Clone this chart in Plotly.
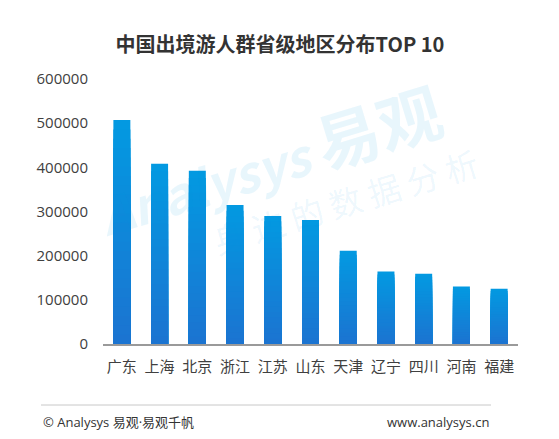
import plotly.graph_objects as go

categories = ["广东", "上海", "北京", "浙江", "江苏", "山东", "天津", "辽宁", "四川", "河南", "福建"]
values = [507000, 408000, 392000, 315000, 290000, 281000, 211000, 164000, 159000, 130000, 125000]
y_ticks = [0, 100000, 200000, 300000, 400000, 500000, 600000]

# page body has an 8px margin: lay the figure out in window pixels shifted by D
D = 8
W, H = 559 - D, 439 - D
L, R, T, B = 103 - D, 41, 79 - D, 95
FONT = "Noto Sans CJK SC, Microsoft YaHei, sans-serif"
FONT_LAT = "Open Sans, Noto Sans CJK SC, sans-serif"

top_rgb = (3, 153, 225)
bot_rgb = (27, 116, 209)

fig = go.Figure()
N = 24
for k in range(N):
    frac = (N - k) / N
    t = k / (N - 1)
    c = tuple(round(top_rgb[i] + (bot_rgb[i] - top_rgb[i]) * t) for i in range(3))
    fig.add_trace(go.Bar(
        x=categories,
        y=[v * frac for v in values],
        marker=dict(color="rgb(%d,%d,%d)" % c, line=dict(width=0)),
        hoverinfo="skip" if k else None,
        showlegend=False,
    ))

def px_x(px):
    return (px - D - L) / (W - L - R)

def px_y(py):
    return (H - B - (py - D)) / (H - T - B)

fig.update_layout(
    width=W, height=H,
    margin=dict(l=L, r=R, t=T, b=B),
    paper_bgcolor="white", plot_bgcolor="white",
    barmode="overlay", bargap=0.55,
    font=dict(family=FONT, color="#404040"),
    showlegend=False,
    title=dict(text="<b>中国出境游人群省级地区分布TOP 10</b>", x=px_x(280), xref="paper", xanchor="center",
               y=1 - (45 - D) / H, yanchor="middle", font=dict(size=20, color="#333333", family=FONT)),
    xaxis=dict(showline=True, linecolor="#9a9a9a", linewidth=1.5, ticks="", showgrid=False,
               tickfont=dict(size=15, color="#404040"), ticklabelstandoff=8),
    yaxis=dict(range=[0, 600000], tickvals=y_ticks, ticktext=[str(v) for v in y_ticks],
               showgrid=False, zeroline=False, showline=False, ticks="",
               tickfont=dict(size=15, color="#404040", family=FONT_LAT), ticklabelstandoff=14),
)

# watermark
fig.add_annotation(text="<b><i>Analysys</i> <span style='font-size:64px'>易观</span></b>",
                   xref="paper", yref="paper",
                   x=px_x(268), y=px_y(158), xanchor="center", yanchor="middle",
                   showarrow=False, textangle=-17,
                   font=dict(size=50, color="rgba(3,150,225,0.09)", family=FONT))
fig.add_annotation(text="<span style='color:rgba(245,150,60,0.10)'>你</span> 身 边 的 数 据 分 析",
                   xref="paper", yref="paper",
                   x=px_x(326), y=px_y(207), xanchor="center", yanchor="middle",
                   showarrow=False, textangle=-17,
                   font=dict(size=33, color="rgba(3,150,225,0.08)", family=FONT))

# footer
fig.add_shape(type="line", xref="paper", yref="paper",
              x0=px_x(41), x1=px_x(491), y0=px_y(405), y1=px_y(405),
              line=dict(color="#c8c8c8", width=1))
fig.add_annotation(text="© Analysys 易观·易观千帆", xref="paper", yref="paper",
                   x=px_x(41), y=px_y(422), xanchor="left", yanchor="middle", showarrow=False,
                   font=dict(size=13, color="#333333", family=FONT_LAT))
fig.add_annotation(text="www.analysys.cn", xref="paper", yref="paper",
                   x=px_x(491), y=px_y(422), xanchor="right", yanchor="middle", showarrow=False,
                   font=dict(size=13, color="#333333", family=FONT_LAT))

fig.write_html("out.html")
